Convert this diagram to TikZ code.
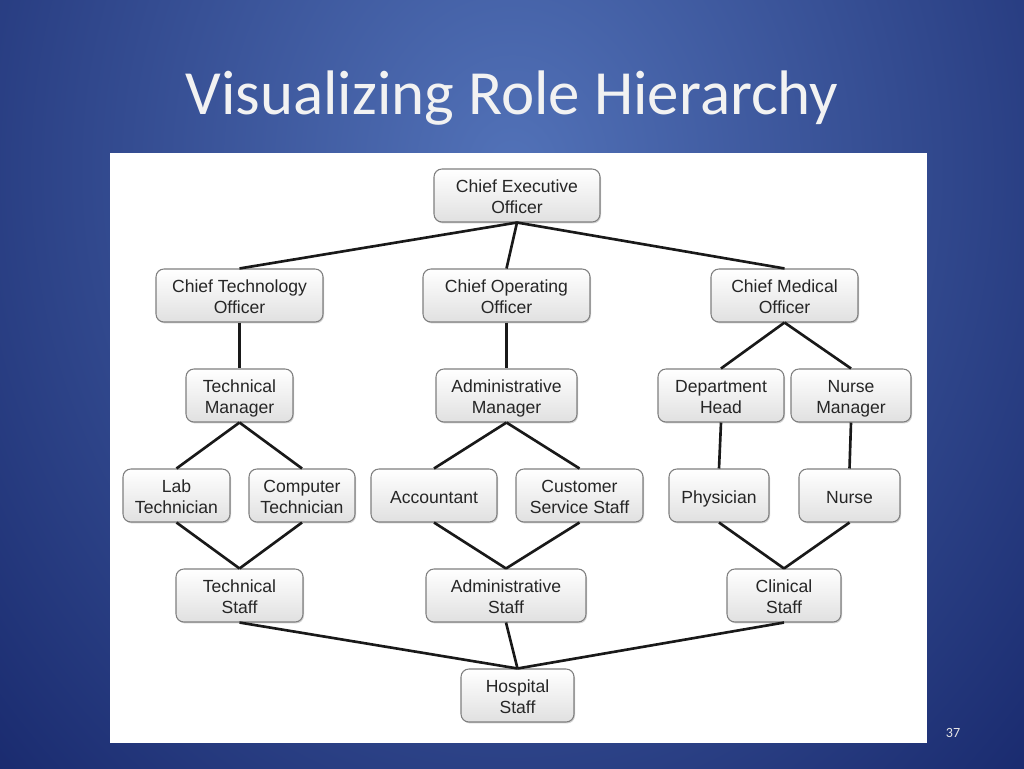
\documentclass[tikz,border=0pt]{standalone}
\usepackage{fontspec}
\setmainfont{Liberation Sans}
\newfontfamily\titlefont{Carlito}
\usepackage{xcolor}
\usetikzlibrary{positioning,shadows}

\definecolor{bgouter}{HTML}{16266A}
\definecolor{bginner}{HTML}{5272B8}
\definecolor{boxline}{HTML}{7F7F7F}
\definecolor{boxtext}{HTML}{262626}

\begin{document}
\begin{tikzpicture}[
  x=0.02cm, y=-0.02cm,
  font=\fontsize{10pt}{12pt}\selectfont,
  role/.style={draw=boxline, line width=0.6pt, rounded corners=4.5pt, align=center,
    text=boxtext, top color=white, bottom color=black!12, minimum height=1.06cm, inner ysep=0pt,
    text height=22pt, text depth=1.2pt,
    drop shadow={shadow xshift=0.6pt, shadow yshift=-0.8pt, opacity=0.35}},
  oneline/.style={text height=10pt},
  link/.style={line width=1.5pt, draw=black!90}
]
% background
\fill[bgouter] (0,0) rectangle (1024,768);
\begin{scope}
  \clip (0,0) rectangle (1024,768);
  \shade[inner color=bginner, outer color=bgouter] (512,170) ellipse (770 and 920);
\end{scope}
\useasboundingbox (0,0) rectangle (1024,768);

\node[text=white!95!black, font=\titlefont\fontsize{35.8pt}{40pt}\selectfont] (title) at (512,98) {Visualizing Role Hierarchy};
\fill[white] (110,153) rectangle (927,743);
\node[text=white!90!black, font=\titlefont\fontsize{8pt}{10pt}\selectfont] (page) at (953,733) {37};

% level 1-2
\node[role, minimum width=3.32cm] (ceo) at (517,195.5) {Chief Executive\\Officer};
\node[role, minimum width=3.34cm] (cto) at (239.5,295.5) {Chief Technology\\Officer};
\node[role, minimum width=3.34cm] (coo) at (506.5,295.5) {Chief Operating\\Officer};
\node[role, minimum width=2.94cm] (cmo) at (784.5,295.5) {Chief Medical\\Officer};

% managers
\node[role, minimum width=2.14cm] (techmgr) at (239.5,395.5) {Technical\\Manager};
\node[role, minimum width=2.82cm] (adminmgr) at (506.5,395.5) {Administrative\\Manager};
\node[role, minimum width=2.52cm] (depthead) at (721,395.5) {Department\\Head};
\node[role, minimum width=2.40cm] (nursemgr) at (851,395.5) {Nurse\\Manager};

% staff roles
\node[role, minimum width=2.14cm] (lab) at (176.5,495.5) {Lab\\Technician};
\node[role, minimum width=2.12cm] (comp) at (302,495.5) {Computer\\Technician};
\node[role, oneline, minimum width=2.52cm] (acct) at (434,495.5) {Accountant};
\node[role, minimum width=2.54cm] (css) at (579.5,495.5) {Customer\\Service Staff};
\node[role, oneline, minimum width=2.00cm] (phys) at (719,495.5) {Physician};
\node[role, oneline, minimum width=2.02cm] (nurse) at (849.5,495.5) {Nurse};

% groups
\node[role, minimum width=2.54cm] (techstaff) at (239.5,595.5) {Technical\\Staff};
\node[role, minimum width=3.20cm] (adminstaff) at (506,595.5) {Administrative\\Staff};
\node[role, minimum width=2.28cm] (clinstaff) at (784,595.5) {Clinical\\Staff};
\node[role, minimum width=2.26cm] (hosp) at (517.5,695.5) {Hospital\\Staff};

\draw[link] (ceo.south) -- (cto.north);
\draw[link] (ceo.south) -- (coo.north);
\draw[link] (ceo.south) -- (cmo.north);
\draw[link] (cto.south) -- (techmgr.north);
\draw[link] (coo.south) -- (adminmgr.north);
\draw[link] (cmo.south) -- (depthead.north);
\draw[link] (cmo.south) -- (nursemgr.north);
\draw[link] (techmgr.south) -- (lab.north);
\draw[link] (techmgr.south) -- (comp.north);
\draw[link] (adminmgr.south) -- (acct.north);
\draw[link] (adminmgr.south) -- (css.north);
\draw[link] (depthead.south) -- (phys.north);
\draw[link] (nursemgr.south) -- (nurse.north);
\draw[link] (lab.south) -- (techstaff.north);
\draw[link] (comp.south) -- (techstaff.north);
\draw[link] (acct.south) -- (adminstaff.north);
\draw[link] (css.south) -- (adminstaff.north);
\draw[link] (phys.south) -- (clinstaff.north);
\draw[link] (nurse.south) -- (clinstaff.north);
\draw[link] (techstaff.south) -- (hosp.north);
\draw[link] (adminstaff.south) -- (hosp.north);
\draw[link] (clinstaff.south) -- (hosp.north);
\end{tikzpicture}
\end{document}
